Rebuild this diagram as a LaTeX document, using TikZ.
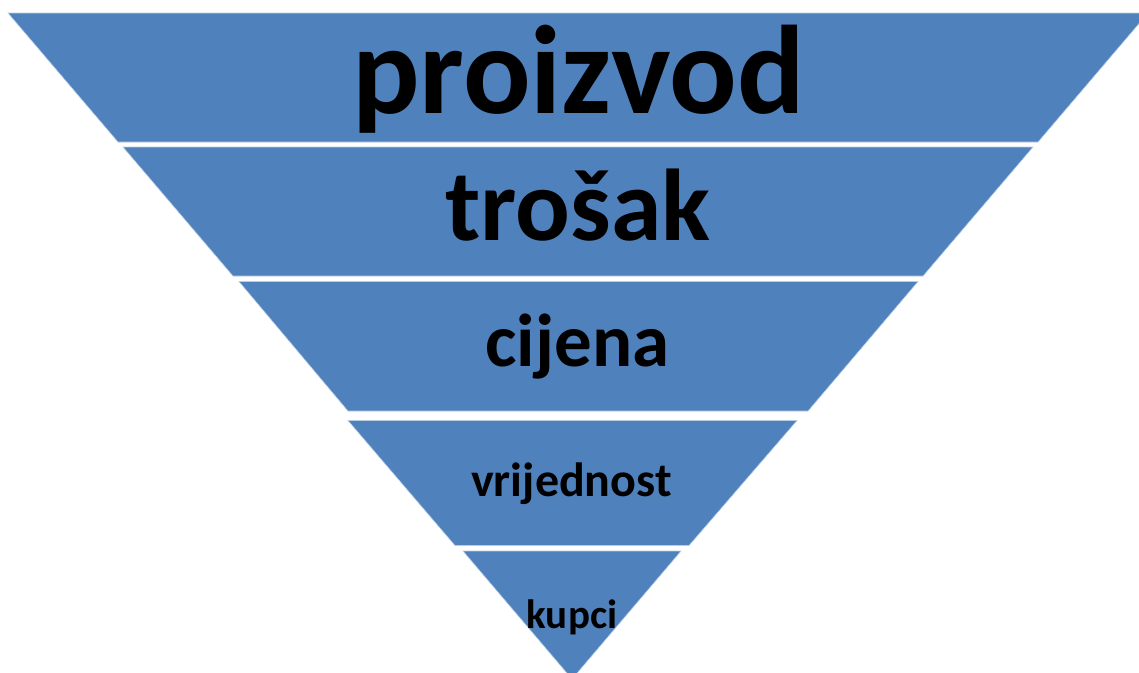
\documentclass[tikz,border=0pt]{standalone}
\usepackage{fontspec}
\setmainfont{Carlito}
\definecolor{layerblue}{HTML}{4F81BD}
\definecolor{edgeblue}{HTML}{B8CCE4}
\begin{document}
\begin{tikzpicture}[x=1pt,y=-1pt,
  layer/.style={fill=layerblue, draw=edgeblue, line width=0.6pt, line join=miter},
  lbl/.style={anchor=base, inner sep=0pt, text=black}]
\useasboundingbox (0,0) rectangle (1139,672);
\clip (0,0) rectangle (1139,672);
% layers
\path[layer] (8,13) -- (1148,13) -- (1038,142) -- (118,142) -- cycle;
\path[layer] (123,147) -- (1033,147) -- (923,276) -- (233,276) -- cycle;
\path[layer] (239,281.5) -- (918,281.5) -- (808,411) -- (348,411) -- cycle;
\path[layer] (348,420.5) -- (797,420.5) -- (689,545.5) -- (455,545.5) -- cycle;
\path[layer] (463,551) -- (681,551) -- (572,679) -- cycle;
% labels
\node[lbl, font=\fontsize{126}{130}\selectfont\bfseries] (proizvod) at (578.5,113) {proizvod};
\node[lbl, font=\fontsize{102}{106}\selectfont\bfseries] (trosak) at (578,240) {trošak};
\node[lbl, font=\fontsize{75}{78}\selectfont\bfseries] (cijena) at (577.5,366.5) {cijena};
\node[lbl, font=\fontsize{48}{50}\selectfont\bfseries] (vrijednost) at (571.5,496.5) {vrijednost};
\node[lbl, font=\fontsize{41}{43}\selectfont\bfseries] (kupci) at (572,628) {kupci};
\end{tikzpicture}
\end{document}
